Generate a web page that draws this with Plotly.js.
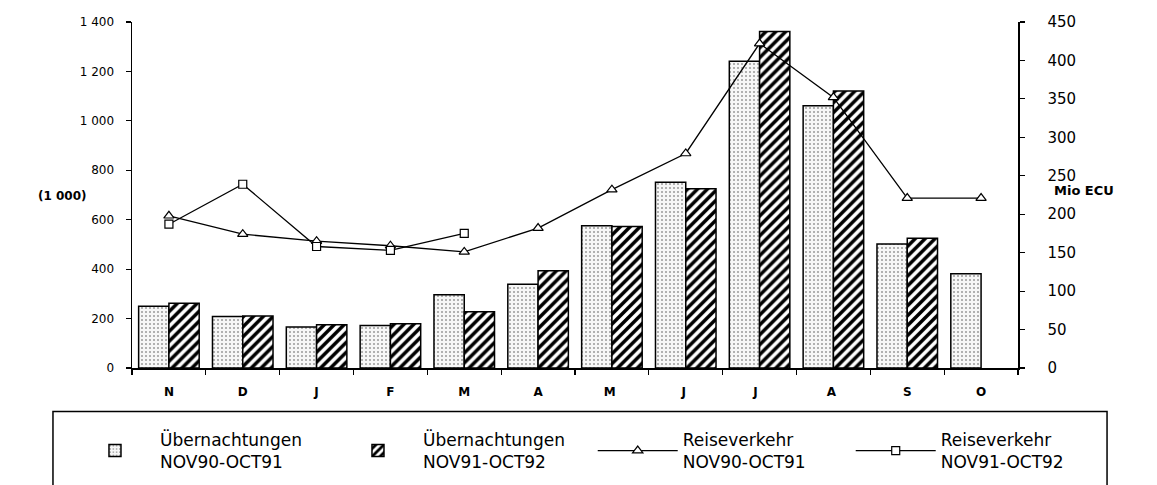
<!DOCTYPE html>
<html>
<head>
<meta charset="utf-8">
<script src="https://cdn.plot.ly/plotly-3.0.1.min.js"></script>
<style>html,body{margin:0;padding:0;background:#fff;}#chart{width:1157px;height:485px;}</style>
</head>
<body>
<div id="chart"></div>
<script>
const months = ["N","D","J","F","M","A","M ","J ","J  ","A ","S","O"];
const overnights9091 = [250, 208, 166, 172, 296, 339, 576, 752, 1241, 1061, 502, 381];
const overnights9192 = [262, 210, 175, 179, 228, 393, 573, 725, 1362, 1121, 525, null];
const travel9091 = [198, 174, 165, 159, 151, 182, 232, 279, 422, 352, 221, 221];
const travel9192 = [187, 239, 158, 153, 175, null, null, null, null, null, null, null];
const leftTicks = [0, 200, 400, 600, 800, 1000, 1200, 1400];
const leftTickText = ["0", "200", "400", "600", "800", "1 000", "1 200", "1 400"];
const rightTicks = [0, 50, 100, 150, 200, 250, 300, 350, 400, 450];
const seriesNames = ["Übernachtungen<br>NOV90-OCT91", "Übernachtungen<br>NOV91-OCT92", "Reiseverkehr<br>NOV90-OCT91", "Reiseverkehr<br>NOV91-OCT92"];

const FONT = "DejaVu Sans, Liberation Sans, Arial, sans-serif";

const traces = [
  {type:"bar", x:months, y:overnights9091, name:seriesNames[0], yaxis:"y", legend:"legend",
   marker:{color:"#f6f6f6", line:{color:"#000", width:1.5},
     pattern:{shape:".", fgcolor:"#9a9a9a", bgcolor:"#f7f7f7", size:4, solidity:0.2}}},
  {type:"bar", x:months, y:overnights9192, name:seriesNames[1], yaxis:"y", legend:"legend",
   marker:{color:"#ffffff", line:{color:"#000", width:1.5},
     pattern:{shape:"/", fgcolor:"#000", bgcolor:"#fff", size:7, solidity:0.5}}},
  {type:"scatter", mode:"lines+markers", x:months, y:travel9091, name:seriesNames[2], yaxis:"y2", legend:"legend2",
   line:{color:"#000", width:1.3},
   marker:{symbol:"triangle-up", size:9, color:"#fff", line:{color:"#000", width:1.2}}},
  {type:"scatter", mode:"lines+markers", x:months, y:travel9192, name:seriesNames[3], yaxis:"y2", legend:"legend2",
   line:{color:"#000", width:1.3},
   marker:{symbol:"square", size:8, color:"#fff", line:{color:"#000", width:1.2}}}
];

const legendCommon = {orientation:"h", xanchor:"left", yanchor:"top",
  font:{size:17, family:FONT}, entrywidthmode:"pixels",
  itemwidth:80, bgcolor:"rgba(0,0,0,0)", borderwidth:0, traceorder:"normal"};

const tickOnly = {ticks:"inside", ticklen:4, tickcolor:"#000", tickwidth:1.2,
  showline:false, showgrid:false, zeroline:false, showticklabels:false, overlaying:"y"};

const layout = {
  width:1157, height:485,
  margin:{l:132, r:139, t:22, b:117, autoexpand:false},
  paper_bgcolor:"#fff", plot_bgcolor:"#fff",
  font:{family:FONT, color:"#000"},
  barmode:"group", bargap:0.18, bargroupgap:0,
  showlegend:true,
  xaxis:{type:"category", range:[-0.5, 11.5], tickson:"boundaries",
    ticks:"outside", ticklen:5, tickcolor:"#000", tickwidth:1.2,
    showline:true, linecolor:"#000", linewidth:1.5, showgrid:false, zeroline:false,
    tickfont:{size:12, family:FONT, weight:"bold"}, ticklabelstandoff:12, fixedrange:true},
  yaxis:{range:[0,1400], tickvals:leftTicks, ticktext:leftTickText,
    ticks:"outside", ticklen:5, tickcolor:"#000", tickwidth:1.2,
    showline:true, linecolor:"#000", linewidth:1.5, showgrid:false, zeroline:false,
    tickfont:{size:12, family:FONT}, ticklabelstandoff:9},
  yaxis2:{range:[0,450], tickvals:rightTicks, overlaying:"y", side:"right",
    ticks:"outside", ticklen:5, tickcolor:"#000", tickwidth:1.2,
    showline:true, linecolor:"#000", linewidth:1.5, showgrid:false, zeroline:false,
    tickfont:{size:15, family:FONT}, ticklabelstandoff:20},
  yaxis3:Object.assign({}, tickOnly, {range:[0,1400], tickvals:leftTicks, side:"left"}),
  yaxis4:Object.assign({}, tickOnly, {range:[0,450], tickvals:rightTicks, side:"right"}),
  legend:Object.assign({}, legendCommon, {x:-0.070, y:-0.156, entrywidth:168}),
  legend2:Object.assign({}, legendCommon, {x:0.520, y:-0.156, entrywidth:163}),
  shapes:[
    {type:"rect", xref:"paper", yref:"paper", x0:-0.0892, x1:1.1005, y0:-0.126, y1:-0.6,
     line:{color:"#000", width:1.5}, fillcolor:"rgba(0,0,0,0)"}
  ],
  annotations:[
    {text:"(1 000)", xref:"paper", yref:"paper", x:-0.108, y:0.497, showarrow:false,
     font:{size:12, family:FONT, weight:"bold"}},
    {text:"Mio ECU", xref:"paper", yref:"paper", x:1.111, y:0.514, showarrow:false,
     font:{size:13, family:FONT, weight:"bold"}}
  ]
};

Plotly.newPlot("chart", traces, layout, {displayModeBar:false, staticPlot:true});
</script>
</body>
</html>
